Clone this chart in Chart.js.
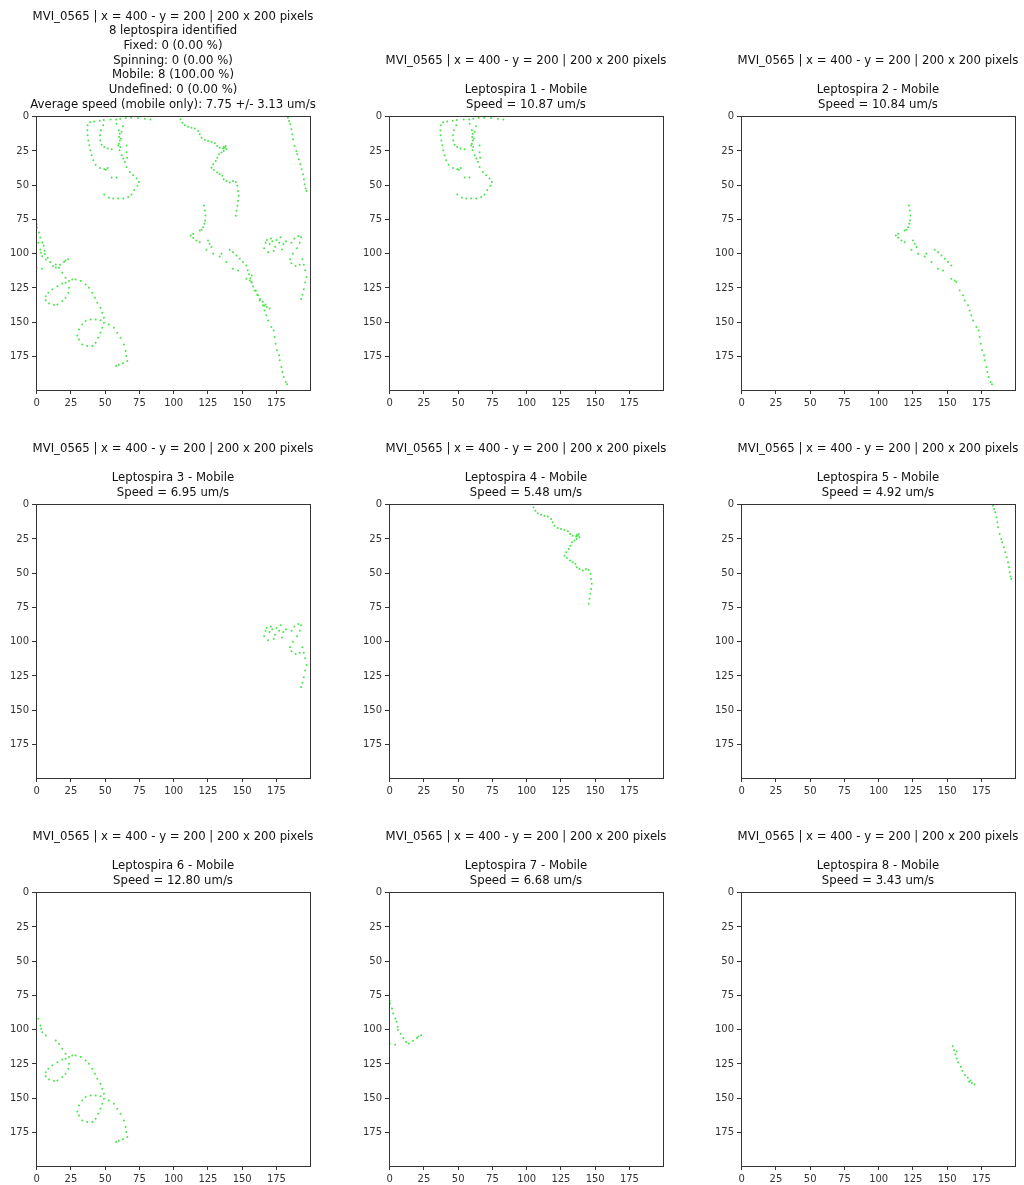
<!DOCTYPE html>
<html>
<head>
<meta charset="utf-8">
<script src="https://cdn.jsdelivr.net/npm/chart.js@4.4.0/dist/chart.umd.min.js"></script>
<style>
  html, body { margin: 0; background: #fff; overflow: hidden; }
  #wrap { position: relative; width: 1024px; height: 1185px; overflow: hidden; }
  #wrap canvas { position: absolute; }
</style>
</head>
<body>
<div id="wrap"></div>
<script>
// tick labels shared by every panel (image is 200 x 200 pixels)
const tickValues = [0, 25, 50, 75, 100, 125, 150, 175]

const headerLine = 'MVI_0565 | x = 400 - y = 200 | 200 x 200 pixels'
const summaryLines = [
  '8 leptospira identified',
  'Fixed: 0 (0.00 %)',
  'Spinning: 0 (0.00 %)',
  'Mobile: 8 (100.00 %)',
  'Undefined: 0 (0.00 %)',
  'Average speed (mobile only): 7.75 +/- 3.13 um/s',
]
const leptoNames = ['Leptospira 1', 'Leptospira 2', 'Leptospira 3', 'Leptospira 4',
  'Leptospira 5', 'Leptospira 6', 'Leptospira 7', 'Leptospira 8']
const leptoStates = ['Mobile', 'Mobile', 'Mobile', 'Mobile', 'Mobile', 'Mobile', 'Mobile', 'Mobile']
const leptoSpeeds = ['10.87', '10.84', '6.95', '5.48', '4.92', '12.80', '6.68', '3.43']

// tracked positions [x, y] in image pixels
const track1 = [
  [39, 4], [42, 3.5], [46, 3], [49, 2.5], [54, 2], [58, 2], [61, 1.5], [65, 1], [69, 0.7], [74, 1], [79, 1.5], [83, 2],
  [37.2, 6.3], [37, 9.9], [37.2, 13.6], [37.7, 17.3], [38.4, 20.9], [39.1, 24.5], [40.1, 28.2], [41.3, 31.8],
  [43, 35], [46.2, 37.4], [49.3, 38.4], [51.8, 37.4], [50.5, 38.8], [48.6, 6.3], [46.9, 9.9], [46.2, 13.6],
  [46.4, 17.3], [47.4, 20.4], [49.3, 22.1], [51.8, 23.3], [54.7, 23.8], [58.3, 5.1], [60, 9.9], [60.7, 12.4],
  [60.2, 14.8], [60.7, 17.3], [60, 19.7], [61, 22.1], [60.5, 24.5], [62, 28.2], [63.2, 30.6], [64.4, 33],
  [65.6, 36.7], [68, 40.3], [70.4, 42.8], [72.9, 45.2], [74.6, 47.6], [73.6, 50.5], [71.2, 53.6], [69.2, 56.8],
  [66.8, 58.7], [63.2, 59.7], [59.5, 59.7], [55.9, 59.7], [52.7, 59.2], [49.3, 56.8], [65.6, 21], [65.6, 26],
  [66, 30], [54.7, 44.4], [58.3, 44.4], [62, 11], [61.5, 16], [59.5, 21], [63, 7],
]
const track2 = [
  [122, 64.9], [122.7, 68.5], [123.2, 72.2], [122.9, 75.8], [122.4, 78.2], [121.5, 80.7], [120.3, 82.6], [119, 83.1],
  [114.2, 85.5], [112.5, 86.7], [114.2, 88.4], [116.6, 90.4], [119, 91.6], [125.1, 90.4], [126.3, 92.8],
  [127.6, 95.2], [123.9, 97.2], [128.8, 100.1], [134.8, 100.1], [133.6, 102], [138.5, 106.1], [143.3, 111],
  [147, 112.2], [140.9, 97.2], [143.3, 98.9], [145.8, 101.3], [148.2, 103.7], [150.6, 106.1], [153.1, 108.6],
  [153.1, 118.3], [155.5, 119.5], [156.7, 120.7], [159.1, 126.8], [161.6, 130.4], [162.8, 134.1], [165.2, 137.7],
  [166.4, 141.4], [167.6, 145], [168.9, 148.7], [171.3, 153.5], [173, 156], [173.7, 160.8], [174.4, 165.7],
  [175.4, 170.5], [176.9, 174.2], [177.4, 177.8], [178.6, 182.7], [179.3, 186.3], [180.3, 190], [181.7, 193.6],
  [182.7, 195.3],
]
const track3 = [
  [166, 96], [167, 92], [168, 90], [170, 93], [172, 91], [174, 95], [175, 90], [177, 92], [178, 88], [180, 93],
  [182, 91], [179, 97], [173, 98], [169, 99], [171, 89], [186, 92], [188, 89], [191, 87], [193, 88], [192, 92],
  [190, 96], [187, 100], [185, 104], [186, 107], [189, 109], [192, 108], [194, 104], [195, 108], [196, 112],
  [197, 117], [196, 121], [195, 126], [194, 130], [193, 133],
]
const track4 = [
  [105, 1.9], [106.4, 4.4], [108.1, 6.3], [110.5, 7.3], [113, 8], [115.4, 8.7], [117.8, 10.4], [119, 12.9],
  [120.3, 15.3], [122.7, 17], [125.1, 17.7], [127.6, 18.5], [130, 19.4], [131.7, 21.4], [133.6, 22.6],
  [136.1, 23.3], [137.3, 22.6], [138.5, 23.8], [136.5, 21.9], [138, 21.4], [136.5, 25], [134.8, 26.2],
  [133.1, 27.5], [131.9, 29.9], [130.7, 32.3], [128.8, 34.7], [127.6, 37.2], [129.3, 38.9], [131.7, 40.8],
  [133.6, 42], [135.6, 43.2], [136.5, 45.7], [138.5, 46.9], [140.9, 48.1], [143.3, 46.9], [145.3, 47.6],
  [146.5, 50.5], [147, 54.2], [147.5, 57.8], [147, 61.5], [146.5, 65.1], [145.8, 68.7], [145.3, 72.4],
]
const track5 = [
  [183.4, 0.7], [184.2, 3.2], [185.1, 5.6], [185.9, 9.2], [186.6, 12.9], [187.1, 16.5], [188.3, 21.4],
  [189.5, 25], [190.2, 27.5], [191.4, 31.1], [192.4, 34.7], [193.4, 38.4], [194.4, 42], [195.1, 45.7],
  [195.6, 49.3], [196.3, 52.5], [196.8, 54.2],
]
const track6 = [
  [1.2, 92.1], [2.7, 96.9], [3.2, 99.3], [4.1, 101.8], [6.6, 104.2], [13.9, 107.9], [16.3, 110.3], [18.7, 114],
  [21.1, 117.6], [23.6, 120], [26, 118.8], [28.4, 118.8], [32.1, 120], [35.7, 122.5], [38.1, 124.9], [40.6, 128.5],
  [42.5, 132.2], [44.2, 135.8], [46.6, 139.5], [47.9, 143.1], [49.1, 146.8], [49.1, 150.4], [47.9, 154.1],
  [46.6, 157.7], [45, 161.4], [43, 165], [40.6, 167.4], [36.9, 167.4], [33.3, 166.2], [30.9, 162.6], [29.6, 159.7],
  [30.9, 155.3], [33.3, 151.6], [35.7, 149.2], [39.4, 148], [43, 148], [46.6, 148.5], [52.7, 151.6], [56.4, 154.1],
  [58.8, 157.7], [61.2, 161.4], [63.7, 166.2], [64.9, 171.1], [65.4, 174.7], [66.1, 178.4], [63, 180], [60, 181],
  [58, 182], [21.1, 121.3], [18.7, 121.7], [15.1, 123.7], [11.4, 126.1], [8.5, 128.5], [6.6, 131], [6.6, 133.9],
  [9, 136.3], [12.6, 137.5], [15.1, 137.1], [18.7, 134.6], [21.1, 132.2], [23.1, 128.5], [23.6, 124.9],
]
const track7 = [
  [0, 78.7], [0.2, 80.9], [1.7, 84.5], [2.6, 88.2], [4.1, 91.8], [5.1, 94.2], [5.8, 97.9], [6, 100.3],
  [8, 103], [10, 106], [12, 109], [14, 110], [17, 108], [20, 106], [23, 104], [21, 105], [0, 110], [4, 111],
]
const track8 = [
  [154, 112], [155, 115], [156, 118], [157, 121], [158, 124], [160, 127], [161, 130], [163, 133], [165, 135],
  [167, 137], [168, 139], [170, 140], [166, 138], [157, 116],
]
const tracks = [track1, track2, track3, track4, track5, track6, track7, track8]

// panel placement: 3 x 3 grid, canvas origin so the axes land where the reference has them
const colLefts = [0, 353, 705]
const rowTops = [0, 388, 776]

const frame = {
  id: 'frame',
  afterDatasetsDraw(chart) {
    const { left, top, right, bottom } = chart.chartArea
    const ctx = chart.ctx
    ctx.save()
    ctx.strokeStyle = '#333'
    ctx.lineWidth = 1
    ctx.strokeRect(Math.round(left) + 0.5, Math.round(top) + 0.5, Math.round(right - left), Math.round(bottom - top))
    ctx.restore()
  },
}

function axisOptions(isY) {
  return {
    type: 'linear',
    min: -0.5,
    max: 199.5,
    reverse: isY,
    position: isY ? 'left' : 'bottom',
    grid: { drawOnChartArea: false, drawTicks: true, tickLength: 4, color: '#333' },
    border: { display: true, color: '#333' },
    ticks: { color: '#333', font: { family: 'DejaVu Sans', size: 10 }, padding: 3, autoSkip: false, maxRotation: 0 },
    afterBuildTicks: (axis) => { axis.ticks = tickValues.map((v) => ({ value: v })) },
    afterFit: (axis) => {
      if (isY) axis.width = 36
      else axis.height = 24
    },
  }
}

// empty right-hand axis: reserves the same width as the y axis so the title centres over the plot
const spacerAxis = {
  type: 'linear',
  position: 'right',
  min: 0,
  max: 1,
  grid: { display: false },
  border: { display: false },
  ticks: { display: false },
  afterFit: (axis) => { axis.width = 36 },
}

const titleSize = 11.7
const titleLineHeight = 1.256

function makePanel(index, titleLines, datasetTracks) {
  const canvas = document.createElement('canvas')
  canvas.width = 346
  canvas.height = 414
  canvas.style.left = colLefts[index % 3] + 'px'
  canvas.style.top = rowTops[Math.floor(index / 3)] + 'px'
  document.getElementById('wrap').appendChild(canvas)

  const titleHeight = titleLines.length * titleSize * titleLineHeight
  new Chart(canvas, {
    type: 'scatter',
    data: {
      datasets: datasetTracks.map((t) => ({
        data: t.map(([x, y]) => ({ x, y })),
        backgroundColor: 'rgb(70,228,70)',
        borderWidth: 0,
        pointRadius: 1,
        pointHoverRadius: 1,
      })),
    },
    options: {
      responsive: false,
      animation: false,
      layout: { padding: 0 },
      scales: { x: axisOptions(false), y: axisOptions(true), spacer: spacerAxis },
      plugins: {
        legend: { display: false },
        tooltip: { enabled: false },
        title: {
          display: true,
          text: titleLines,
          color: '#111',
          font: { family: 'DejaVu Sans', size: titleSize, weight: 'normal', lineHeight: titleLineHeight },
          padding: { top: 116 - titleHeight - 4, bottom: 4 },
        },
      },
    },
    plugins: [frame],
  })
}

makePanel(0, [headerLine, ...summaryLines], tracks)
tracks.forEach((t, i) => {
  makePanel(i + 1, [headerLine, '', leptoNames[i] + ' - ' + leptoStates[i], 'Speed = ' + leptoSpeeds[i] + ' um/s'], [t])
})
</script>
</body>
</html>
